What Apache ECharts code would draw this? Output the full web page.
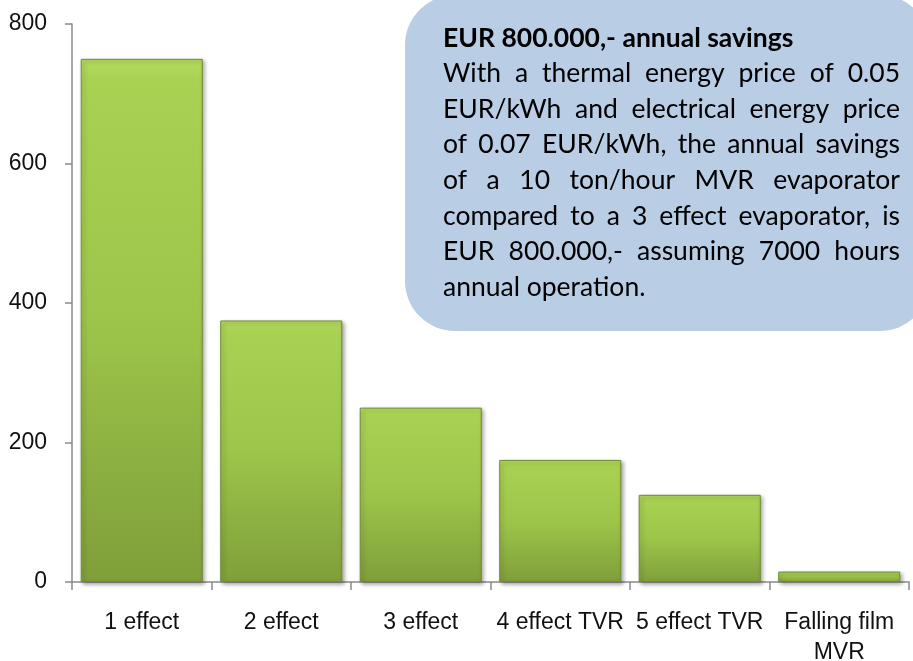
<!DOCTYPE html>
<html>
<head>
<meta charset="utf-8">
<script src="https://cdn.jsdelivr.net/npm/echarts@6/dist/echarts.min.js"></script>
<style>
  html, body { margin: 0; padding: 0; background: #fff; }
  #chart { width: 913px; height: 661px; }
</style>
</head>
<body>
<div id="chart"></div>
<script>
// ------------------------------------------------------------
// Data
// ------------------------------------------------------------
const categories = ['1 effect', '2 effect', '3 effect', '4 effect TVR', '5 effect TVR', 'Falling film\nMVR'];
const values = [750, 375, 250, 175, 125, 15];
const yTicks = [0, 200, 400, 600, 800];

// Callout text, one entry per printed line
const noteTitle = 'EUR 800.000,- annual savings';
const noteLines = [
  'With a thermal energy price of 0.05',
  'EUR/kWh and electrical energy price',
  'of 0.07 EUR/kWh, the annual savings',
  'of a 10 ton/hour MVR evaporator',
  'compared to a 3 effect evaporator, is',
  'EUR 800.000,- assuming 7000 hours',
  'annual operation.'
];

const axisFont = '"Liberation Sans Narrow", "Liberation Sans", Arial, sans-serif';
const noteFont = 'Lato, "Open Sans", sans-serif';

// ------------------------------------------------------------
// Justified text for the callout box (ECharts has no justify)
// ------------------------------------------------------------
const measureCtx = document.createElement('canvas').getContext('2d');

function buildNoteText(left, right, firstMid, lineGap, fontSize) {
  const items = [];
  items.push({
    type: 'text', x: left, y: firstMid, z: 11,
    style: { text: noteTitle, font: 'bold ' + fontSize + 'px ' + noteFont, fill: '#000', verticalAlign: 'middle' }
  });

  measureCtx.font = fontSize + 'px ' + noteFont;
  noteLines.forEach(function(line, i) {
    const y = firstMid + (i + 1) * lineGap;
    const words = line.split(' ');
    const isLast = i === noteLines.length - 1;
    const widths = words.map(function(w) { return measureCtx.measureText(w).width; });
    const total = widths.reduce(function(a, b) { return a + b; }, 0);
    let gap = measureCtx.measureText(' ').width;
    if (!isLast && words.length > 1) gap = (right - left - total) / (words.length - 1);
    let x = left;
    words.forEach(function(w, k) {
      items.push({
        type: 'text', x: x, y: y, z: 11,
        style: { text: w, font: fontSize + 'px ' + noteFont, fill: '#000', verticalAlign: 'middle' }
      });
      x += widths[k] + gap;
    });
  });
  return items;
}

// ------------------------------------------------------------
// Chart
// ------------------------------------------------------------
const chart = echarts.init(document.getElementById('chart'));

const axisGrey = '#8a8a8a';

chart.setOption({
  animation: false,
  grid: { left: 72, right: 4, top: 24, bottom: 79, containLabel: false, outerBoundsMode: 'none' },
  xAxis: {
    type: 'category',
    data: categories,
    axisLine: { lineStyle: { color: axisGrey, width: 1.5 } },
    axisTick: { show: true, length: 8, lineStyle: { color: axisGrey, width: 1.5 } },
    axisLabel: {
      color: '#111', fontFamily: axisFont, fontSize: 23, margin: 26,
      lineHeight: 30, interval: 0
    }
  },
  yAxis: {
    type: 'value',
    min: yTicks[0],
    max: yTicks[yTicks.length - 1],
    interval: yTicks[1] - yTicks[0],
    splitLine: { show: false },
    axisLine: { show: true, lineStyle: { color: axisGrey, width: 1.5 } },
    axisTick: { show: true, length: 7, lineStyle: { color: axisGrey, width: 1.5 } },
    axisLabel: { color: '#111', fontFamily: axisFont, fontSize: 23, margin: 25 }
  },
  series: [{
    type: 'bar',
    data: values,
    barCategoryGap: '12.5%',
    itemStyle: {
      color: new echarts.graphic.LinearGradient(0, 0, 0, 1, [
        { offset: 0, color: '#b4dc60' },
        { offset: 0.04, color: '#a9d253' },
        { offset: 0.5, color: '#9dc54a' },
        { offset: 1, color: '#7f9f3a' }
      ]),
      borderColor: '#6e8c31',
      borderWidth: 1,
      shadowColor: 'rgba(0,0,0,0.35)',
      shadowBlur: 4,
      shadowOffsetX: 2,
      shadowOffsetY: 2
    }
  }],
  graphic: [{
    type: 'rect',
    z: 10,
    shape: { x: 405, y: -5, width: 525, height: 336, r: 50 },
    style: { fill: '#b9cde5' }
  }].concat(buildNoteText(443, 900, 38, 35.6, 26.5))
});
</script>
</body>
</html>
